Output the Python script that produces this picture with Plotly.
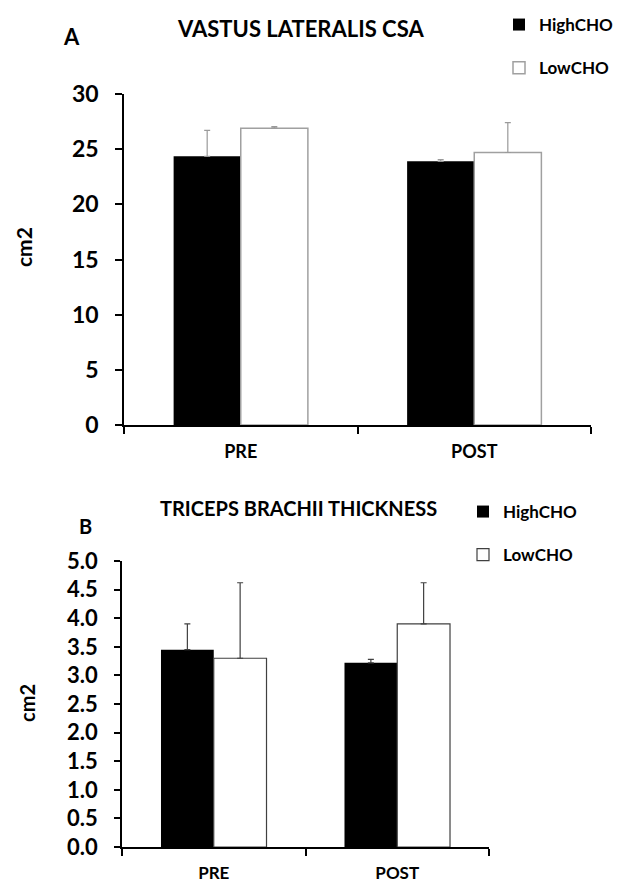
import plotly.graph_objects as go

# ---- data ----
categories = ["PRE", "POST"]
vl_high = [24.35, 23.9]
vl_high_err = [2.35, 0.15]
vl_low = [26.9, 24.7]
vl_low_err = [0.15, 2.7]

tb_high = [3.45, 3.22]
tb_high_err = [0.45, 0.06]
tb_low = [3.30, 3.90]
tb_low_err = [1.32, 0.72]

vl_ticks = [0, 5, 10, 15, 20, 25, 30]
tb_ticks = [0.0, 0.5, 1.0, 1.5, 2.0, 2.5, 3.0, 3.5, 4.0, 4.5, 5.0]

# page body has an 8px margin, so the figure is sized to fill the rest of the window
OFF = 8
W, H = 621 - OFF, 882 - OFF
FONT = "Lato"


def px(x):
    return (x - OFF) / W


def py(y):
    return 1 - (y - OFF) / H


fig = go.Figure()

# top chart
fig.add_trace(go.Bar(
    x=categories, y=vl_high, name="HighCHO", xaxis="x", yaxis="y",
    marker=dict(color="black", line=dict(color="black", width=0)),
    error_y=dict(type="data", array=vl_high_err, arrayminus=[0, 0], symmetric=False,
                 color="#9a9a9a", thickness=1.2, width=3),
    legend="legend", legendgroup="h1",
))
fig.add_trace(go.Bar(
    x=categories, y=vl_low, name="LowCHO", xaxis="x", yaxis="y",
    marker=dict(color="white", line=dict(color="#a0a0a0", width=1.5)),
    error_y=dict(type="data", array=vl_low_err, arrayminus=[0, 0], symmetric=False,
                 color="#9a9a9a", thickness=1.2, width=3),
    legend="legend", legendgroup="l1",
))

# bottom chart
fig.add_trace(go.Bar(
    x=categories, y=tb_high, name="HighCHO", xaxis="x2", yaxis="y2",
    marker=dict(color="black", line=dict(color="black", width=0)),
    error_y=dict(type="data", array=tb_high_err, arrayminus=[0, 0], symmetric=False,
                 color="#404040", thickness=1.2, width=3),
    legend="legend2", legendgroup="h2",
))
fig.add_trace(go.Bar(
    x=categories, y=tb_low, name="LowCHO", xaxis="x2", yaxis="y2",
    marker=dict(color="white", line=dict(color="#404040", width=1.2)),
    error_y=dict(type="data", array=tb_low_err, arrayminus=[0, 0], symmetric=False,
                 color="#404040", thickness=1.2, width=3),
    legend="legend2", legendgroup="l2",
))

axis_common = dict(showline=True, linecolor="black", linewidth=1.5, ticks="outside",
                   tickcolor="black", tickwidth=1.5, showgrid=False, zeroline=False)


def label(text, x, y, size, angle=0):
    return dict(text=text, x=px(x), y=py(y), xref="paper", yref="paper",
                xanchor="center", yanchor="middle", textangle=angle,
                showarrow=False, font=dict(size=size, weight="bold"))


fig.update_layout(
    width=W, height=H,
    margin=dict(l=0, r=0, t=0, b=0, autoexpand=False),
    paper_bgcolor="white", plot_bgcolor="white",
    font=dict(family=FONT, color="black"),
    barmode="group", bargap=0.425, bargroupgap=0,
    xaxis=dict(domain=[px(124), px(591)], anchor="y", type="category",
               range=[-0.5, 1.5], tickson="boundaries", ticklen=7, ticklabelstandoff=10,
               tickfont=dict(size=18, family=FONT, weight="bold"), **axis_common),
    yaxis=dict(domain=[py(425), py(94)], anchor="x", range=[0, 30],
               tickvals=vl_ticks, ticklen=7, ticklabelstandoff=12,
               tickfont=dict(size=23, family=FONT, weight="bold"), **axis_common),
    xaxis2=dict(domain=[px(122), px(489)], anchor="y2", type="category",
                range=[-0.5, 1.5], tickson="boundaries", ticklen=7, ticklabelstandoff=10,
                tickfont=dict(size=17, family=FONT, weight="bold"), **axis_common),
    yaxis2=dict(domain=[py(847), py(561)], anchor="x2", range=[0, 5],
                tickvals=tb_ticks, tickformat=".1f", ticklen=6, ticklabelstandoff=12,
                tickfont=dict(size=22, family=FONT, weight="bold"), **axis_common),
    legend=dict(x=px(499), y=py(7), xanchor="left", yanchor="top",
                tracegroupgap=18, bgcolor="rgba(0,0,0,0)",
                font=dict(size=17, family=FONT, weight="bold"), itemwidth=30),
    legend2=dict(x=px(463), y=py(494), xanchor="left", yanchor="top",
                 tracegroupgap=18, bgcolor="rgba(0,0,0,0)",
                 font=dict(size=17, family=FONT, weight="bold"), itemwidth=30),
    showlegend=True,
    annotations=[
        label("VASTUS LATERALIS CSA", 300, 29, 22),
        label("A", 71, 37, 22),
        label("cm2", 24, 247, 21, -90),
        label("TRICEPS BRACHII THICKNESS", 298, 508, 20),
        label("B", 85, 526, 20),
        label("cm2", 27, 703, 20, -90),
    ],
)

fig.write_html("out.html")
